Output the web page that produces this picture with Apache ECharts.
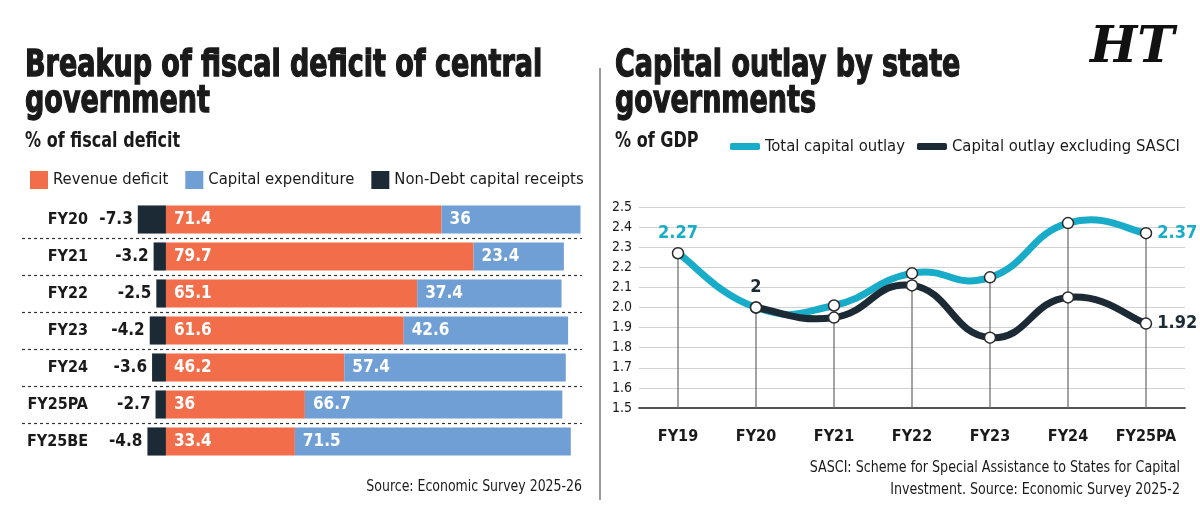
<!DOCTYPE html>
<html>
<head>
<meta charset="utf-8">
<script src="https://cdn.jsdelivr.net/npm/echarts@6/dist/echarts.min.js"></script>
<style>
html,body{margin:0;padding:0;background:#fff;}
#chart{width:1200px;height:527px;}
</style>
</head>
<body>
<div id="chart"></div>
<script>
// ---- Data ----
const barCategories = ['FY20', 'FY21', 'FY22', 'FY23', 'FY24', 'FY25PA', 'FY25BE'];
const revenueDeficit = [71.4, 79.7, 65.1, 61.6, 46.2, 36, 33.4];
const capitalExpenditure = [36, 23.4, 37.4, 42.6, 57.4, 66.7, 71.5];
const nonDebtCapitalReceipts = [-7.3, -3.2, -2.5, -4.2, -3.6, -2.7, -4.8];

const lineCategories = ['FY19', 'FY20', 'FY21', 'FY22', 'FY23', 'FY24', 'FY25PA'];
const totalCapitalOutlay = [2.27, 2.00, 2.01, 2.17, 2.15, 2.42, 2.37];
const outlayExcludingSASCI = [null, 2.00, 1.95, 2.11, 1.85, 2.05, 1.92];

// ---- Styles ----
const FONT = "'DejaVu Sans Condensed', 'DejaVu Sans', sans-serif";
const RED = '#f26d4a';
const BLUE = '#6f9fd4';
const DARK = '#1c2a35';
const CYAN = '#19acc8';
const TXT = '#1a1a1a';

const chart = echarts.init(document.getElementById('chart'), null, {renderer: 'canvas'});

const dropLines = lineCategories.map((c, i) => {
  const vals = [totalCapitalOutlay[i], outlayExcludingSASCI[i]].filter(v => v != null);
  return Math.max.apply(null, vals);
});

// Cardinal spline through the points, positioned with the axis scales (api.coord)
function splinePath(values, api, k) {
  const pts = [];
  values.forEach((v, i) => { if (v != null) pts.push(api.coord([i, v])); });
  let d = 'M' + pts[0][0] + ',' + pts[0][1];
  for (let i = 0; i < pts.length - 1; i++) {
    const p0 = pts[Math.max(i - 1, 0)], p1 = pts[i], p2 = pts[i + 1];
    const p3 = pts[Math.min(i + 2, pts.length - 1)];
    const c1x = p1[0] + (p2[0] - p0[0]) * k / 6, c1y = p1[1] + (p2[1] - p0[1]) * k / 6;
    const c2x = p2[0] - (p3[0] - p1[0]) * k / 6, c2y = p2[1] - (p3[1] - p1[1]) * k / 6;
    d += ' C' + c1x + ',' + c1y + ' ' + c2x + ',' + c2y + ' ' + p2[0] + ',' + p2[1];
  }
  return d;
}
function curveSeries(values, color, z) {
  return {
    type: 'custom', xAxisIndex: 1, yAxisIndex: 1, silent: true, z: z,
    data: [[0, values.find(v => v != null)]],
    renderItem: (params, api) => ({
      type: 'path',
      shape: {pathData: splinePath(values, api, 1.45)},
      style: {fill: 'none', stroke: color, lineWidth: 7, lineCap: 'round', lineJoin: 'round'}
    })
  };
}

const markerStyle = {color: '#fff', borderColor: '#2b2b2b', borderWidth: 1.5};
const numLabel = (pos, color) => ({
  show: true, position: pos, distance: 5,
  fontFamily: FONT, fontWeight: 'bold', fontSize: 18, color: color
});

const totalData = totalCapitalOutlay.map((v, i) => {
  const d = {value: v};
  if (i === 0) d.label = numLabel('top', CYAN);
  if (i === totalCapitalOutlay.length - 1) d.label = numLabel('right', CYAN);
  return d;
});
const exData = outlayExcludingSASCI.map((v, i) => {
  const d = {value: v};
  if (i === 1) d.label = numLabel('top', DARK);
  if (i === outlayExcludingSASCI.length - 1) d.label = numLabel('right', DARK);
  return d;
});

const barLabelInside = {
  show: true, position: 'insideLeft', distance: 8,
  fontFamily: FONT, fontWeight: 'bold', fontSize: 17, color: '#fff'
};

const option = {
  backgroundColor: '#fff',
  animation: false,
  textStyle: {fontFamily: FONT},
  legend: [
    {
      left: 25, top: 166, itemWidth: 18, itemHeight: 18, itemGap: 17,
      icon: 'rect',
      textStyle: {fontFamily: FONT, fontSize: 16.5, color: TXT},
      data: ['Revenue deficit', 'Capital expenditure', 'Non-Debt capital receipts']
    },
    {
      left: 725, top: 133, itemWidth: 30, itemHeight: 7, itemGap: 12,
      icon: 'roundRect',
      textStyle: {fontFamily: FONT, fontSize: 16.5, color: TXT},
      data: [
        {name: 'Total capital outlay', itemStyle: {color: CYAN, borderColor: CYAN, borderWidth: 0}},
        {name: 'Capital outlay excluding SASCI', itemStyle: {color: DARK, borderColor: DARK, borderWidth: 0}}
      ]
    }
  ],
  grid: [
    {left: 22, right: 618, top: 201, height: 259},
    {left: 639, right: 15, top: 207, height: 201}
  ],
  xAxis: [
    {
      gridIndex: 0, type: 'value', min: -37.3, max: 107.8,
      show: false, splitLine: {show: false}
    },
    {
      gridIndex: 1, type: 'category', data: lineCategories, boundaryGap: true,
      axisLine: {lineStyle: {color: '#555', width: 2}},
      axisTick: {show: false},
      axisLabel: {interval: 0, fontFamily: FONT, fontWeight: 'bold', fontSize: 16, color: TXT, margin: 21}
    }
  ],
  yAxis: [
    {
      gridIndex: 0, type: 'category', data: barCategories, inverse: true,
      axisLine: {show: false}, axisTick: {show: false},
      axisLabel: {inside: true, align: 'right', margin: 66,
        fontFamily: FONT, fontWeight: 'bold', fontSize: 16, color: TXT},
      splitLine: {show: true, showMinLine: false, showMaxLine: false,
        lineStyle: {type: [3, 3], color: '#333', width: 1.2}}
    },
    {
      gridIndex: 1, type: 'value', min: 1.5, max: 2.5, interval: 0.1,
      axisLine: {show: false}, axisTick: {show: false},
      axisLabel: {margin: 7, fontFamily: FONT, fontSize: 14, color: TXT,
        formatter: v => v.toFixed(1)},
      splitLine: {lineStyle: {color: '#d2d2d2', width: 1}}
    }
  ],
  series: [
    {
      name: 'Non-Debt capital receipts', type: 'bar', stack: 'fd',
      xAxisIndex: 0, yAxisIndex: 0, barCategoryGap: '24%',
      itemStyle: {color: DARK}, data: nonDebtCapitalReceipts,
      label: {show: true, position: 'left', distance: 5, fontFamily: FONT,
        fontWeight: 'bold', fontSize: 17, color: TXT}
    },
    {
      name: 'Revenue deficit', type: 'bar', stack: 'fd',
      xAxisIndex: 0, yAxisIndex: 0, barCategoryGap: '24%',
      itemStyle: {color: RED}, data: revenueDeficit, label: barLabelInside
    },
    {
      name: 'Capital expenditure', type: 'bar', stack: 'fd',
      xAxisIndex: 0, yAxisIndex: 0, barCategoryGap: '24%',
      itemStyle: {color: BLUE}, data: capitalExpenditure, label: barLabelInside
    },
    {
      name: 'drop', type: 'bar', xAxisIndex: 1, yAxisIndex: 1,
      barWidth: 1.2, itemStyle: {color: '#666'}, data: dropLines,
      silent: true, z: 1
    },
    curveSeries(totalCapitalOutlay, CYAN, 2),
    curveSeries(outlayExcludingSASCI, DARK, 3),
    {
      name: 'Total capital outlay', type: 'line', xAxisIndex: 1, yAxisIndex: 1,
      symbol: 'circle', symbolSize: 11, z: 5,
      lineStyle: {color: CYAN, width: 0, opacity: 0},
      itemStyle: Object.assign({}, markerStyle),
      data: totalData
    },
    {
      name: 'Capital outlay excluding SASCI', type: 'line', xAxisIndex: 1, yAxisIndex: 1,
      symbol: 'circle', symbolSize: 11, z: 6,
      lineStyle: {color: DARK, width: 0, opacity: 0},
      itemStyle: Object.assign({}, markerStyle),
      data: exData
    }
  ],
  graphic: [
    {type: 'text', x: 25, y: 48, scaleX: 0.79, style: {text: 'Breakup of fiscal deficit of central\ngovernment',
      font: "bold 38px " + FONT, fill: TXT, stroke: TXT, lineWidth: 1.3, lineHeight: 36}},
    {type: 'text', x: 25, y: 131, scaleX: 0.85, style: {text: '% of fiscal deficit',
      font: "bold 21px " + FONT, fill: TXT}},
    {type: 'text', x: 615, y: 48, scaleX: 0.79, style: {text: 'Capital outlay by state\ngovernments',
      font: "bold 38px " + FONT, fill: TXT, stroke: TXT, lineWidth: 1.3, lineHeight: 36}},
    {type: 'text', x: 615, y: 131, scaleX: 0.85, style: {text: '% of GDP',
      font: "bold 21px " + FONT, fill: TXT}},
    {type: 'text', x: 1090, y: 24, style: {text: 'HT',
      font: "italic bold 50px 'DejaVu Serif', serif", fill: '#111'}},
    {type: 'line', shape: {x1: 600, y1: 68, x2: 600, y2: 500},
      style: {stroke: '#9a9a9a', lineWidth: 2}},
    {type: 'text', x: 582, y: 479, scaleX: 0.87, style: {text: 'Source: Economic Survey 2025-26',
      font: "16px " + FONT, fill: TXT, align: 'right', verticalAlign: 'top'}},
    {type: 'text', x: 1180, y: 457, scaleX: 0.88, style: {text: 'SASCI: Scheme for Special Assistance to States for Capital\nInvestment. Source: Economic Survey 2025-2',
      font: "16px " + FONT, fill: TXT, align: 'right', verticalAlign: 'top', lineHeight: 22}}
  ]
};
chart.setOption(option);
</script>
</body>
</html>
